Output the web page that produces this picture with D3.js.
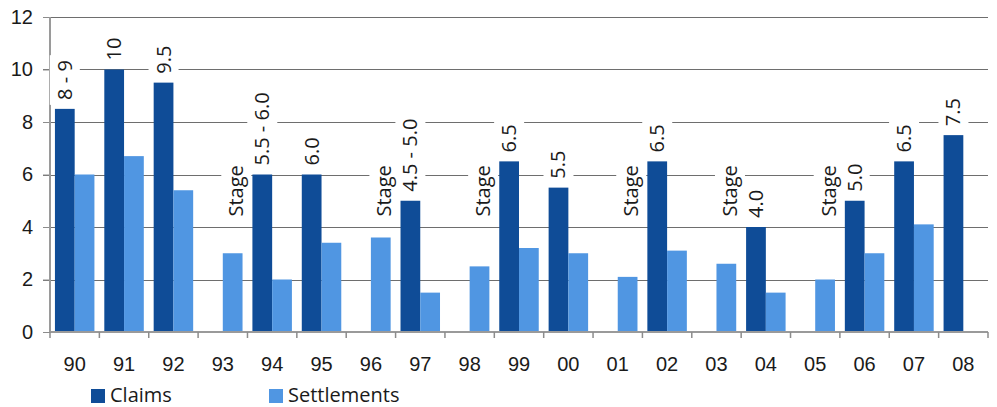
<!DOCTYPE html>
<html>
<head>
<meta charset="utf-8">
<script src="https://cdn.jsdelivr.net/npm/d3@7"></script>
<style>
  body { margin: 0; background: #fff; }
  svg { display: block; font-family: 'Open Sans', 'Noto Sans', sans-serif; }
  text { fill: #1a1a1a; }
</style>
</head>
<body>
<svg id="chart" width="997" height="407"></svg>
<script>
const years = ['90', '91', '92', '93', '94', '95', '96', '97', '98', '99', '00', '01', '02', '03', '04', '05', '06', '07', '08']
const claims = [8.5, 10, 9.5, null, 6, 6, null, 5, null, 6.5, 5.5, null, 6.5, null, 4, null, 5, 6.5, 7.5]
const settlements = [6, 6.7, 5.4, 3, 2, 3.4, 3.6, 1.5, 2.5, 3.2, 3, 2.1, 3.1, 2.6, 1.5, 2, 3, 4.1, null]
const claimLabels = ['8 - 9', '10', '9.5', '', '5.5 - 6.0', '6.0', '', '4.5 - 5.0', '', '6.5', '5.5', '', '6.5', '', '4.0', '', '5.0', '6.5', '7.5']
const stageYears = ['93', '96', '98', '01', '03', '05']
const stageText = 'Stage'
const stageLevel = 4.4
const yTicks = [0, 2, 4, 6, 8, 10, 12]
const seriesNames = ['Claims', 'Settlements']
const colors = {Claims: '#0f4c97', Settlements: '#5096e2'}

const svg = d3.select('#chart')
const margin = {top: 17, right: 9, bottom: 75, left: 50}
const width = 997 - margin.left - margin.right
const height = 407 - margin.top - margin.bottom

const g = svg.append('g').attr('transform', `translate(${margin.left},${margin.top})`)

const xScale = d3.scaleBand().domain(years).range([0, width]).padding(0)
const subScale = d3.scaleBand().domain(seriesNames).range([0, xScale.bandwidth()]).paddingInner(0).paddingOuter(0.25)
const yScale = d3.scaleLinear().domain([0, 12]).range([height, 0])

// gridlines + left ticks
g.append('g').selectAll('line').data(yTicks.filter(d => d > 0)).enter().append('line')
    .attr('x1', -7).attr('x2', width)
    .attr('y1', d => Math.round(yScale(d)) + 0.5).attr('y2', d => Math.round(yScale(d)) + 0.5)
    .attr('stroke', '#6e6e6e')

const yAxis = d3.axisLeft(yScale).tickValues(yTicks).tickSize(7).tickPadding(10)
const ya = g.append('g').call(yAxis)
ya.select('.domain').remove()
ya.selectAll('line').attr('stroke', '#8c8c8c')
ya.selectAll('text').attr('font-size', 20).attr('font-family', null).attr('fill', '#1a1a1a')

const rows = years.map((y, i) => ({year: y, Claims: claims[i], Settlements: settlements[i], label: claimLabels[i]}))

// bars
const groups = g.selectAll('.year').data(rows).enter().append('g')
    .attr('class', 'year')
    .attr('transform', d => `translate(${xScale(d.year)},0)`)

groups.selectAll('rect')
    .data(d => seriesNames.filter(s => d[s] != null).map(s => ({key: s, value: d[s]})))
    .enter().append('rect')
    .attr('x', d => subScale(d.key))
    .attr('width', subScale.bandwidth())
    .attr('y', d => yScale(d.value))
    .attr('height', d => height - yScale(d.value))
    .attr('fill', d => colors[d.key])

// axes lines
g.append('line').attr('x1', 0).attr('x2', 0).attr('y1', 0).attr('y2', height)
    .attr('stroke', '#9a9a9a').attr('stroke-width', 2)
g.append('line').attr('x1', 0).attr('x2', width).attr('y1', height).attr('y2', height)
    .attr('stroke', '#9a9a9a').attr('stroke-width', 2)

// x ticks at band boundaries
const bounds = years.map(y => xScale(y)).concat([width])
g.append('g').selectAll('line').data(bounds).enter().append('line')
    .attr('x1', d => d).attr('x2', d => d)
    .attr('y1', height).attr('y2', height + 6)
    .attr('stroke', '#8c8c8c').attr('stroke-width', 1.5)

const xAxis = d3.axisBottom(xScale).tickSize(0).tickPadding(25)
const xa = g.append('g').attr('transform', `translate(0,${height})`).call(xAxis)
xa.select('.domain').remove()
xa.selectAll('text').attr('font-size', 20).attr('font-family', null).attr('fill', '#1a1a1a')

// rotated labels with white boxes
function rotatedLabel(x, y, txt) {
    const lg = g.append('g').attr('transform', `translate(${x},${y}) rotate(-90)`)
    const box = lg.append('rect').attr('fill', '#fff')
    const t = lg.append('text').attr('font-size', 20).attr('dy', '0.35em').text(txt)
    const len = t.node().getComputedTextLength()
    box.attr('x', -5).attr('y', -15).attr('width', len + 10).attr('height', 30)
}

rows.filter(d => d.label && d.Claims != null).forEach(d => {
    const cx = xScale(d.year) + subScale('Claims') + subScale.bandwidth() / 2
    rotatedLabel(cx, yScale(d.Claims) - 9, d.label)
})

stageYears.forEach(y => {
    const cx = xScale(y) + xScale.bandwidth() / 2 + 13.5
    rotatedLabel(cx, yScale(stageLevel), stageText)
})

// legend
const legend = svg.append('g').attr('transform', 'translate(91,388)')
const items = legend.selectAll('g').data(seriesNames).enter().append('g')
    .attr('transform', (d, i) => `translate(${i * 178},0)`)
items.append('rect').attr('y', 1).attr('width', 14).attr('height', 14).attr('fill', d => colors[d])
items.append('text').attr('x', 19).attr('y', 13.5).attr('font-size', 20).text(d => d)
</script>
</body>
</html>
